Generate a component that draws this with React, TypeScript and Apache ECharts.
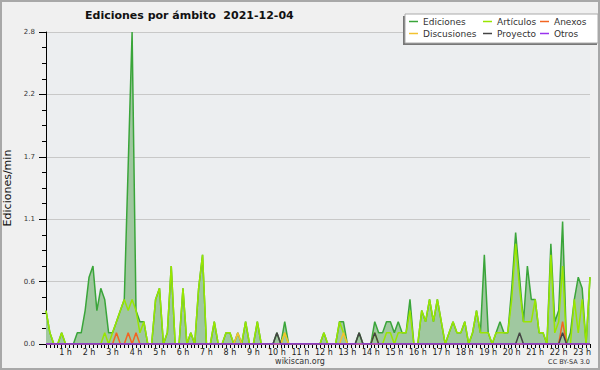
import React, { useEffect, useRef } from "react";
import * as echarts from "echarts";

// 10-minute slots from 00:10 to 23:20
const slots: string[] = [];
for (let k = 1; k <= 140; k++) {
  const h = Math.floor((k * 10) / 60);
  const m = (k * 10) % 60;
  slots.push(`${String(h).padStart(2, "0")}:${String(m).padStart(2, "0")}`);
}

const hourLabels = [
  "1 h", "2 h", "3 h", "4 h", "5 h", "6 h", "7 h", "8 h", "9 h", "10 h", "11 h", "12 h",
  "13 h", "14 h", "15 h", "16 h", "17 h", "18 h", "19 h", "20 h", "21 h", "22 h", "23 h",
];

const ediciones = [
  0.3, 0.1, 0, 0, 0.1, 0, 0, 0, 0.1, 0.1,
  0.3, 0.6, 0.7, 0.3, 0.5, 0.4, 0.1, 0.1, 0.2, 0.3,
  0.4, 1.6, 2.8, 0.3, 0.2, 0.2, 0, 0, 0.4, 0.5,
  0, 0.1, 0.7, 0, 0, 0.5, 0, 0.1, 0, 0.5,
  0.8, 0, 0, 0.2, 0, 0, 0.1, 0.1, 0, 0.1,
  0, 0.2, 0, 0, 0.2, 0, 0, 0, 0, 0.1,
  0, 0.2, 0, 0, 0, 0, 0, 0, 0, 0,
  0, 0.1, 0, 0, 0, 0.2, 0.2, 0, 0, 0,
  0.1, 0, 0, 0, 0.2, 0.1, 0.1, 0.2, 0.2, 0.1,
  0.2, 0.1, 0.1, 0.4, 0, 0, 0.3, 0.2, 0.4, 0.2,
  0.4, 0.2, 0, 0.1, 0.2, 0.1, 0.1, 0.2, 0, 0.1,
  0.3, 0.1, 0.8, 0.1, 0, 0.1, 0.2, 0.1, 0.1, 0.5,
  1.0, 0.6, 0.2, 0.7, 0.4, 0.4, 0.1, 0.1, 0, 0.9,
  0.2, 0.3, 1.1, 0, 0.1, 0.4, 0.6, 0.5, 0, 0.6,
];

const articulos = [
  0.3, 0.1, 0, 0, 0.1, 0, 0, 0, 0, 0,
  0, 0, 0, 0, 0, 0.1, 0, 0.1, 0.2, 0.3,
  0.4, 0.3, 0.4, 0.3, 0.1, 0.2, 0, 0, 0.4, 0.5,
  0, 0.1, 0.7, 0, 0, 0.5, 0, 0.1, 0, 0.5,
  0.8, 0, 0, 0.2, 0, 0, 0.1, 0.1, 0, 0,
  0, 0.2, 0, 0, 0.2, 0, 0, 0, 0, 0,
  0, 0.1, 0, 0, 0, 0, 0, 0, 0, 0,
  0, 0.1, 0, 0, 0, 0.2, 0.1, 0, 0, 0,
  0, 0, 0, 0, 0.1, 0, 0, 0.1, 0.1, 0,
  0.1, 0.1, 0.1, 0.3, 0, 0, 0.3, 0.2, 0.4, 0.2,
  0.4, 0.2, 0, 0.1, 0.2, 0.1, 0.1, 0.2, 0, 0.1,
  0.3, 0.1, 0.1, 0.1, 0, 0.1, 0.1, 0.1, 0.1, 0.4,
  0.9, 0.5, 0.2, 0.2, 0.2, 0.4, 0.1, 0.1, 0, 0.8,
  0.1, 0.2, 0.7, 0, 0, 0.4, 0.1, 0.4, 0, 0.6,
];

const anexos = [
  0, 0, 0, 0, 0, 0, 0, 0, 0, 0, 0, 0, 0, 0, 0, 0, 0, 0, 0.1, 0,
  0, 0.1, 0, 0.1, 0, 0, 0, 0, 0, 0, 0, 0, 0, 0, 0, 0, 0, 0, 0, 0,
  0, 0, 0, 0, 0, 0, 0, 0, 0, 0, 0, 0, 0, 0, 0, 0, 0, 0, 0, 0,
  0, 0, 0, 0, 0, 0, 0, 0, 0, 0, 0, 0, 0, 0, 0, 0, 0, 0, 0, 0,
  0, 0, 0, 0, 0, 0, 0, 0, 0, 0, 0, 0, 0, 0, 0, 0, 0, 0, 0, 0,
  0, 0, 0, 0, 0, 0, 0, 0, 0, 0, 0, 0, 0, 0, 0, 0, 0, 0, 0, 0,
  0, 0, 0, 0, 0, 0, 0, 0, 0, 0, 0, 0, 0.2, 0, 0, 0, 0, 0, 0, 0,
];

const discusiones = [
  0, 0, 0, 0, 0, 0, 0, 0, 0, 0, 0, 0, 0, 0, 0, 0, 0, 0, 0, 0,
  0, 0, 0, 0, 0, 0, 0, 0, 0, 0, 0, 0, 0, 0, 0, 0, 0, 0, 0, 0,
  0, 0, 0, 0, 0, 0, 0, 0, 0, 0.1, 0, 0, 0, 0, 0, 0, 0, 0, 0, 0,
  0, 0.1, 0, 0, 0, 0, 0, 0, 0, 0, 0, 0, 0, 0, 0, 0, 0.1, 0, 0, 0,
  0, 0, 0, 0, 0, 0, 0, 0, 0, 0, 0, 0, 0, 0, 0, 0, 0, 0, 0, 0,
  0, 0, 0, 0, 0, 0, 0, 0, 0, 0, 0, 0, 0, 0, 0, 0, 0, 0, 0, 0,
  0, 0, 0, 0, 0, 0, 0, 0, 0, 0, 0, 0, 0, 0, 0, 0, 0, 0, 0, 0,
];

const proyecto = [
  0, 0, 0, 0, 0, 0, 0, 0, 0, 0, 0, 0, 0, 0, 0, 0, 0, 0, 0, 0,
  0, 0, 0, 0, 0, 0, 0, 0, 0, 0, 0, 0, 0, 0, 0, 0, 0, 0, 0, 0,
  0, 0, 0, 0, 0, 0, 0, 0, 0, 0, 0, 0, 0, 0, 0, 0, 0, 0, 0, 0.1,
  0, 0, 0, 0, 0, 0, 0, 0, 0, 0, 0, 0, 0, 0, 0, 0, 0, 0, 0, 0,
  0.1, 0, 0, 0, 0.1, 0, 0, 0, 0, 0, 0, 0, 0, 0, 0, 0, 0, 0, 0, 0,
  0, 0, 0, 0, 0, 0, 0, 0, 0, 0, 0, 0, 0, 0, 0, 0, 0, 0, 0, 0,
  0, 0.1, 0, 0, 0, 0, 0, 0, 0, 0, 0, 0, 0.1, 0, 0, 0, 0, 0, 0, 0,
];

const otros = [
  0, 0, 0, 0, 0, 0, 0, 0, 0, 0, 0, 0, 0, 0, 0, 0, 0, 0, 0, 0,
  0, 0, 0, 0, 0, 0, 0, 0, 0, 0, 0, 0, 0, 0, 0, 0, 0, 0, 0, 0,
  0, 0, 0, 0, 0, 0, 0, 0, 0, 0, 0, 0, 0, 0, 0, 0, 0, 0, 0, 0,
  0, 0, 0, 0, 0, 0, 0, 0, 0, 0, 0, 0, 0, 0, 0, 0, 0, 0, 0, 0,
  0, 0, 0, 0, 0, 0, 0, 0, 0, 0, 0, 0, 0, 0, 0, 0, 0, 0, 0, 0,
  0, 0, 0, 0, 0, 0, 0, 0, 0, 0, 0, 0, 0, 0, 0, 0, 0, 0, 0, 0,
  0, 0, 0, 0, 0, 0, 0, 0, 0, 0, 0, 0, 0, 0, 0, 0, 0, 0, 0, 0,
];

const FONT = "DejaVu Sans";

export default function App() {
  const ref = useRef<HTMLDivElement>(null);
  useEffect(() => {
    if (!ref.current) return;
    const chart = echarts.init(ref.current, null, { renderer: "svg" });
    const legendBase = {
      orient: "vertical" as const,
      padding: 0,
      itemGap: 1,
      itemWidth: 9,
      itemHeight: 1.5,
      icon: "rect",
      top: 16,
      z: 6,
      selectedMode: false,
      textStyle: { fontSize: 9, color: "#333", lineHeight: 11, fontFamily: FONT },
    };
    const line = (name: string, data: number[], color: string, extra: any = {}) => ({
      name,
      type: "line",
      data,
      color,
      symbol: "none",
      lineStyle: { color, width: 1.5 },
      ...extra,
    });
    chart.setOption({
      animation: false,
      backgroundColor: "#f0f0f0",
      textStyle: { fontFamily: FONT },
      title: {
        text: "Ediciones por ámbito  2021-12-04",
        left: 85,
        top: 10,
        padding: 0,
        textStyle: { fontSize: 11, fontWeight: "bold", color: "#111", fontFamily: FONT },
      },
      grid: {
        left: 46,
        right: 10,
        top: 32,
        bottom: 26,
        show: true,
        backgroundColor: "#eceef0",
        borderWidth: 0,
        containLabel: false,
        outerBoundsMode: "none",
      },
      xAxis: {
        type: "category",
        data: slots,
        boundaryGap: false,
        z: 3,
        axisLine: { lineStyle: { color: "#000", width: 1 } },
        axisTick: { show: true, interval: 0, length: 4, lineStyle: { color: "#000" } },
        axisLabel: {
          interval: (i: number) => (i + 1) % 6 === 0,
          formatter: (_v: string, i: number) => hourLabels[(i + 1) / 6 - 1] ?? "",
          fontSize: 8,
          color: "#222",
          margin: 4,
          fontFamily: FONT,
          hideOverlap: false,
        },
        splitLine: { show: false },
      },
      yAxis: {
        type: "value",
        min: 0,
        max: 2.8,
        interval: 0.56,
        name: "Ediciones/min",
        nameLocation: "middle",
        nameRotate: 90,
        nameGap: 31,
        nameTextStyle: { fontSize: 11, color: "#111", fontFamily: FONT },
        axisLine: { show: true, lineStyle: { color: "#000" } },
        axisTick: { show: true, length: 7, lineStyle: { color: "#000" } },
        minorTick: { show: true, splitNumber: 4, length: 4, lineStyle: { color: "#000" } },
        axisLabel: {
          fontSize: 7,
          color: "#333",
          margin: 11,
          fontFamily: FONT,
          formatter: (v: number) => v.toFixed(1),
        },
        splitLine: { show: true, lineStyle: { color: "#c8c8c8", width: 1 } },
      },
      legend: [
        { ...legendBase, left: 409, data: ["Ediciones", "Discusiones"] },
        { ...legendBase, left: 483, data: ["Artículos", "Proyecto"] },
        { ...legendBase, left: 540, data: ["Anexos", "Otros"] },
      ],
      graphic: [
        { type: "rect", z: 4, silent: true, shape: { x: 403, y: 16, width: 194, height: 29 }, style: { fill: "#777" } },
        { type: "rect", z: 5, silent: true, shape: { x: 405, y: 14, width: 193, height: 29 }, style: { fill: "#ffffff", stroke: "#aaaaaa", lineWidth: 1 } },
        { type: "text", z: 5, silent: true, x: 300, y: 361, style: { text: "wikiscan.org", fontSize: 8, fontFamily: FONT, fill: "#333", align: "center", verticalAlign: "middle" } },
        { type: "text", z: 5, silent: true, x: 590, y: 362, style: { text: "CC BY-SA 3.0", fontSize: 6.5, fontFamily: FONT, fill: "#333", align: "right", verticalAlign: "middle" } },
        { type: "rect", z: 10, silent: true, shape: { x: 1, y: 1, width: 598, height: 368 }, style: { fill: "none", stroke: "#a8a8a8", lineWidth: 2 } },
      ],
      series: [
        line("Ediciones", ediciones, "#3aa53a", { areaStyle: { color: "#a0c8a0", opacity: 1 } }),
        line("Artículos", articulos, "#99e600"),
        line("Anexos", anexos, "#f26522"),
        line("Discusiones", discusiones, "#f2c230"),
        line("Proyecto", proyecto, "#444444"),
        line("Otros", otros, "#9933ee"),
      ],
    });
    return () => chart.dispose();
  }, []);
  return <div ref={ref} style={{ position: "absolute", left: 0, top: 0, width: 600, height: 370 }} />;
}
